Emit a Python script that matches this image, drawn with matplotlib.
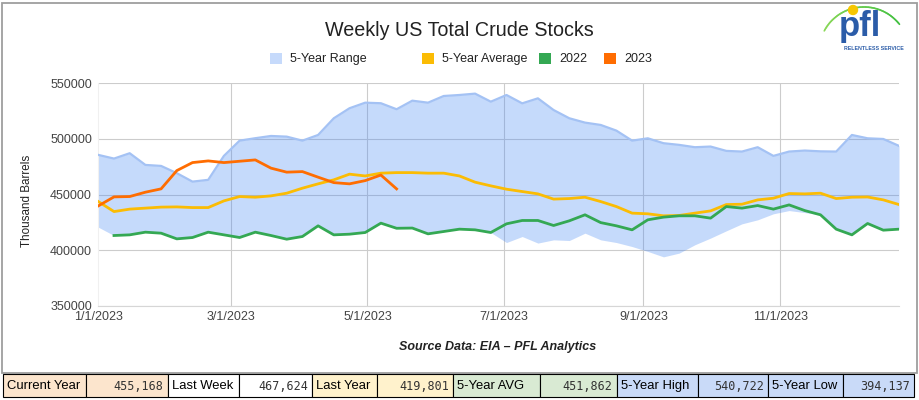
import matplotlib
matplotlib.use('Agg')
import matplotlib.pyplot as plt
import matplotlib.patches as mpatches
import numpy as np
import pandas as pd

plt.rcParams['font.family'] = ['Liberation Sans', 'DejaVu Sans']

# weekly values, thousand barrels (week 1 = 1/1/2023)
range_high = [485700, 482400, 487200, 476700, 475800, 469300, 461700, 463300, 484800, 498500,
              500700, 502700, 502100, 498500, 503600, 518600, 527600, 532600, 532100, 526700,
              534400, 532600, 538600, 539500, 540722, 533500, 539500, 532000, 536500, 526000,
              518600, 514700, 512600, 507500, 498500, 500600, 496200, 494700, 492600, 493200,
              489300, 488700, 492600, 484800, 488700, 489600, 488900, 488700, 503600, 500600,
              500000, 493800]
range_low = [420800, 413300, 413900, 416300, 415400, 410300, 411500, 416300, 413900, 411500,
             416300, 413300, 410000, 412400, 422000, 413900, 414500, 416000, 424400, 419801,
             420000, 414800, 416900, 419000, 418400, 416000, 407000, 412400, 406500, 409400,
             408800, 415400, 409400, 407000, 403400, 399000, 394137, 397500, 405000, 411000,
             417500, 423800, 427400, 432800, 435700, 433900, 431900, 419000, 413900, 424100,
             418100, 419000]
avg_5yr = [443800, 434800, 437000, 437900, 438800, 439000, 438400, 438400, 444400, 448300,
           447700, 448900, 451300, 455800, 459700, 463300, 468400, 466800, 469300, 469800,
           469800, 469300, 469300, 466800, 461200, 457900, 454900, 452800, 450700, 446000,
           446500, 447700, 443800, 439300, 433400, 432800, 431000, 431300, 433400, 435400,
           441100, 441400, 445300, 446800, 451000, 450700, 451300, 446500, 447700, 447900,
           445300, 441100]
y2022 = [np.nan, 413300, 413900, 416300, 415400, 410300, 411500, 416300, 413900, 411500,
         416300, 413300, 410000, 412400, 422000, 413900, 414500, 416000, 424400, 419801,
         420000, 414800, 416900, 419000, 418400, 416000, 423800, 426800, 426800, 422300,
         426500, 431900, 424900, 422000, 418400, 427400, 429800, 431000, 431000, 428900,
         439300, 437900, 440200, 437000, 440800, 435700, 431900, 419000, 413900, 424100,
         418100, 419000]
y2023 = [439900, 448000, 448300, 452200, 455200, 471600, 478800, 480300, 478800, 480000,
         481200, 473800, 470200, 470700, 465700, 460800, 459700, 462600, 467624, 455168]

y_ticks = [350000, 400000, 450000, 500000, 550000]
x_tick_dates = ['2023-01-01', '2023-03-01', '2023-05-01', '2023-07-01', '2023-09-01', '2023-11-01']
x_tick_labels = ['1/1/2023', '3/1/2023', '5/1/2023', '7/1/2023', '9/1/2023', '11/1/2023']

legend_names = ['5-Year Range', '5-Year Average', '2022', '2023']
legend_colors = ['#c6dafb', '#fbbc04', '#34a853', '#ff6d01']

table_labels = ['Current Year', 'Last Week', 'Last Year', '5-Year AVG', '5-Year High', '5-Year Low']
table_values = ['455,168', '467,624', '419,801', '451,862', '540,722', '394,137']
table_colors = ['#fce5cd', '#ffffff', '#fff2cc', '#d9ead3', '#c9daf8', '#c9daf8']

W, H = 920, 400


def fx(x):
    return x / W


def fy(y):
    return 1 - y / H


fig = plt.figure(figsize=(9.2, 4), dpi=100)
fig.patch.set_facecolor('white')

# outer frame
fig.patches.append(mpatches.Rectangle((fx(2.5), fy(373)), fx(916.7) - fx(2.5), (373 - 2.5) / H,
                                      transform=fig.transFigure, fill=False,
                                      edgecolor='#9e9e9e', lw=1.3))

ax = fig.add_axes([fx(98.3), fy(306), fx(899) - fx(98.3), (306 - 83.3) / H])

weeks = pd.date_range('2023-01-01', periods=len(range_high), freq='7D')

ax.fill_between(weeks, range_low, range_high, color='#4285f4', alpha=0.3, lw=0, zorder=2)
ax.plot(weeks, range_high, color='#a4c2f4', lw=1.6, zorder=3)
ax.plot(weeks, avg_5yr, color='#fbbc04', lw=2, zorder=4)
ax.plot(weeks, y2022, color='#34a853', lw=2, zorder=5)
ax.plot(weeks[:len(y2023)], y2023, color='#ff6d01', lw=2, zorder=6)

ax.set_xlim(weeks[0], weeks[-1])
ax.set_ylim(y_ticks[0], y_ticks[-1])
ax.set_yticks(y_ticks)
ax.set_yticklabels([str(v) for v in y_ticks])
ax.set_xticks(pd.to_datetime(x_tick_dates))
ax.set_xticklabels(x_tick_labels)
ax.tick_params(length=0, labelsize=9, colors='#444444')
ax.tick_params(axis='y', pad=4.5)
ax.tick_params(axis='x', pad=3.5)

ax.grid(True, color='#cccccc', lw=0.8, zorder=0)
ax.set_axisbelow(True)
ax.xaxis.get_gridlines()[0].set_visible(False)
for s in ['top', 'right']:
    ax.spines[s].set_visible(False)
ax.spines['bottom'].set_color('#d6d6d6')
ax.spines['left'].set_color('#f0f0f0')

fig.text(fx(27), fy(201), 'Thousand Barrels', rotation=90, ha='center', va='center',
         fontsize=8.4, color='#222222')

# title, legend, source
fig.text(fx(459), fy(31), 'Weekly US Total Crude Stocks', ha='center', va='center',
         fontsize=14.2, color='#222222')

legend_x = [270, 422, 539, 604]
for x, name, c in zip(legend_x, legend_names, legend_colors):
    fig.patches.append(mpatches.Rectangle((fx(x), fy(64)), 12 / W, 11 / H,
                                          transform=fig.transFigure, color=c, lw=0))
    fig.text(fx(x + 20), fy(59), name, ha='left', va='center', fontsize=9, color='#222222')

fig.text(fx(498), fy(347), 'Source Data: EIA \u2013 PFL Analytics', ha='center', va='center',
         fontsize=9, fontweight='bold', fontstyle='italic', color='#222222')

# stats table
edges = [2.7, 85.7, 167.7, 238.7, 312, 376.7, 453, 540, 616.7, 697.7, 768.3, 843.3, 914]
t_top, t_bot = 374, 397.3
for i in range(len(table_labels)):
    for j in range(2):
        x0, x1 = edges[2 * i + j], edges[2 * i + j + 1]
        fig.patches.append(mpatches.Rectangle((fx(x0), fy(t_bot)), (x1 - x0) / W, (t_bot - t_top) / H,
                                              transform=fig.transFigure, facecolor=table_colors[i],
                                              edgecolor='black', lw=0.8))
        yc = fy((t_top + t_bot) / 2 + 0.5)
        if j == 0:
            fig.text(fx(x0 + 4), yc, table_labels[i], ha='left', va='center',
                     fontsize=9.4, color='black')
        else:
            fig.text(fx(x1 - 4), yc, table_values[i], ha='right', va='center',
                     fontsize=8.5, family='DejaVu Sans Mono', color='#333333')

# logo
lg = fig.add_axes([fx(820), fy(54), 95 / W, 51 / H])
lg.set_xlim(820, 915)
lg.set_ylim(54, 3)
lg.axis('off')
t = np.linspace(np.radians(208), np.radians(322), 60)
ax_pts = 864 + 45 * np.cos(t)
ay_pts = 52 + 45 * np.sin(t)
for k in range(len(t) - 1):
    g = k / (len(t) - 1)
    lg.plot(ax_pts[k:k + 2], ay_pts[k:k + 2], color=(0.55 - 0.3 * g, 0.85 - 0.1 * g, 0.35 - 0.1 * g),
            lw=1.2, solid_capstyle='round')
lg.add_patch(mpatches.Circle((853, 10), 4.5, color='#f7c600', zorder=5))
lg.text(860, 36, 'pfl', ha='center', va='baseline', fontsize=25, fontweight='bold',
        color='#2b5ca8', zorder=6)
lg.text(874, 48.5, 'RELENTLESS SERVICE', ha='center', va='center', fontsize=3.8,
        fontweight='bold', color='#2b5ca8')

fig.savefig('out.png', dpi=100, facecolor='white')
